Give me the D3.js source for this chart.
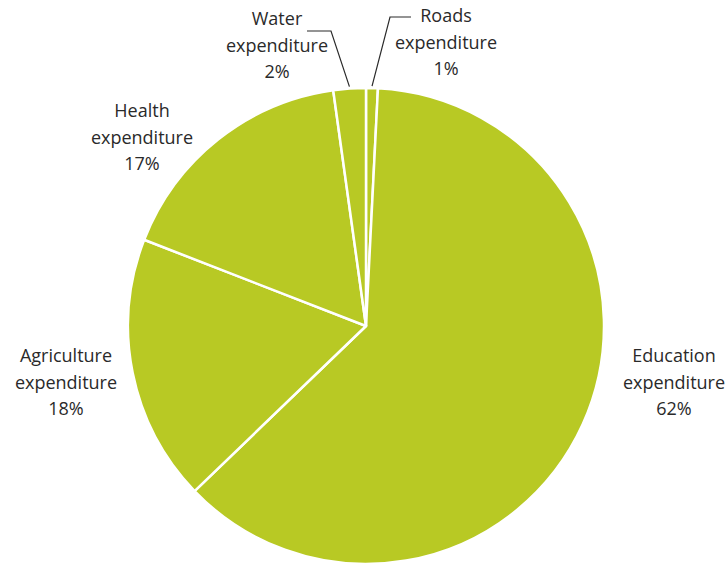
<!DOCTYPE html>
<html>
<head>
<meta charset="utf-8">
<script src="https://cdn.jsdelivr.net/npm/d3@7"></script>
<style>
  html, body { margin: 0; padding: 0; background: #fff; }
  svg { display: block; }
</style>
</head>
<body>
<svg id="chart" width="726" height="563"></svg>
<script>
// Data (clockwise from 12 o'clock)
const categories = ["Roads", "Education", "Agriculture", "Health", "Water"];
const values = [0.8, 62.0, 18.1, 16.9, 2.2];
const pctLabels = ["1%", "62%", "18%", "17%", "2%"];

const W = 726, H = 563;
const cx = 366, cy = 326, R = 238;
const svg = d3.select("#chart");
const g = svg.append("g").attr("transform", `translate(${cx},${cy})`);

const data = categories.map((c, i) => ({ name: c, value: values[i], pct: pctLabels[i] }));
const pie = d3.pie().value(d => d.value).sort(null).startAngle(0).endAngle(2 * Math.PI);
const arc = d3.arc().innerRadius(0).outerRadius(R);
const arcs = pie(data);

g.selectAll("path.slice")
  .data(arcs)
  .join("path")
  .attr("class", "slice")
  .attr("d", arc)
  .attr("fill", "#b8c924")
  .attr("stroke", "#ffffff")
  .attr("stroke-width", 2.5)
  .attr("stroke-linejoin", "round");

// Label layout (absolute page positions of the text block centers)
const labelLayout = {
  Roads:       { x: 446, y: 16, leader: { elbow: [390, 17], end: [411, 17] } },
  Education:   { x: 674, y: 356 },
  Agriculture: { x: 66,  y: 356 },
  Health:      { x: 142, y: 111 },
  Water:       { x: 277, y: 19, leader: { elbow: [331, 31], end: [307, 31] } }
};

const lineGap = 26.5;
const font = "'Open Sans', 'Noto Sans', sans-serif";

arcs.forEach(a => {
  const L = labelLayout[a.data.name];
  const lines = [a.data.name, "expenditure", a.data.pct];
  const t = svg.append("text")
    .attr("text-anchor", "middle")
    .attr("font-family", font)
    .attr("font-size", 18)
    .attr("fill", "#2a2a2a");
  lines.forEach((ln, i) => {
    t.append("tspan")
      .attr("x", L.x)
      .attr("y", L.y + i * lineGap)
      .attr("dy", "0.35em")
      .text(ln);
  });
  if (L.leader) {
    const mid = (a.startAngle + a.endAngle) / 2;
    const r0 = R + 2;
    const sx = cx + r0 * Math.sin(mid);
    const sy = cy - r0 * Math.cos(mid);
    svg.append("polyline")
      .attr("points", [[sx, sy], L.leader.elbow, L.leader.end].map(p => p.join(",")).join(" "))
      .attr("fill", "none")
      .attr("stroke", "#2a2a2a")
      .attr("stroke-width", 1.2);
  }
});
</script>
</body>
</html>
